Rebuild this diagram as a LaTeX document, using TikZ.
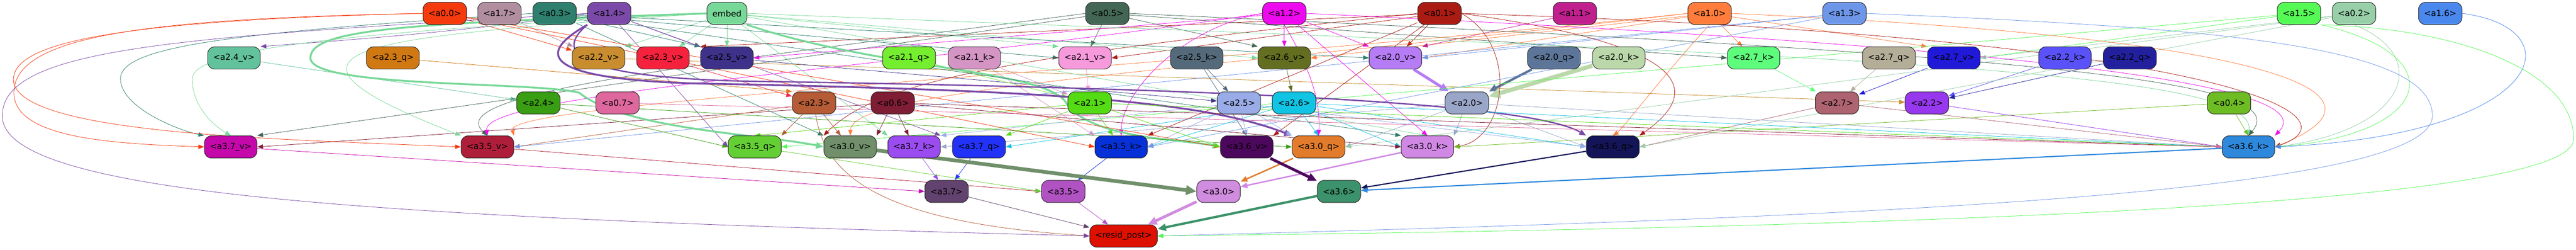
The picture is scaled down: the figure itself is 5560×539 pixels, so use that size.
\documentclass[tikz,border=0pt]{standalone}
\usepackage{fontspec}
\setmainfont{DejaVu Sans}
\usetikzlibrary{arrows.meta}
\pgfdeclarelayer{back}
\pgfdeclarelayer{edges}
\pgfsetlayers{back,edges,main}
\newcommand\nfs{\fontsize{18}{21}\selectfont}
% node colours
\definecolor{c00}{HTML}{F53A0E}\definecolor{c17}{HTML}{B08EA0}\definecolor{c03}{HTML}{2E7F6E}
\definecolor{c14}{HTML}{7B4AA8}\definecolor{cemb}{HTML}{78D898}\definecolor{c05}{HTML}{436655}
\definecolor{c12}{HTML}{EE0AEE}\definecolor{c01}{HTML}{AA1B14}\definecolor{c11}{HTML}{C0208E}
\definecolor{c10}{HTML}{FF7C3C}\definecolor{c13}{HTML}{6E96E8}\definecolor{c15}{HTML}{55F955}
\definecolor{c02}{HTML}{98CFA8}\definecolor{c16}{HTML}{4A88EE}
\definecolor{c24v}{HTML}{62C29B}\definecolor{c23q}{HTML}{D07812}\definecolor{c22v}{HTML}{C98D30}
\definecolor{c23v}{HTML}{F4223C}\definecolor{c25v}{HTML}{3D3189}\definecolor{c21q}{HTML}{74EE2E}
\definecolor{c21k}{HTML}{D494C4}\definecolor{c21v}{HTML}{F79ADC}\definecolor{c25k}{HTML}{546A7A}
\definecolor{c26v}{HTML}{636E20}\definecolor{c20v}{HTML}{B67CF6}\definecolor{c20q}{HTML}{5C7598}
\definecolor{c20k}{HTML}{BAD8AA}\definecolor{c27k}{HTML}{5EFC7C}\definecolor{c27q}{HTML}{B4AE98}
\definecolor{c27v}{HTML}{2019D8}\definecolor{c22k}{HTML}{5A52F8}\definecolor{c22q}{HTML}{23209E}
\definecolor{c24}{HTML}{3A9E14}\definecolor{c07}{HTML}{DE689E}\definecolor{c23}{HTML}{B55B36}
\definecolor{c06}{HTML}{7E1D34}\definecolor{c21}{HTML}{55DB14}\definecolor{c25}{HTML}{9AACE8}
\definecolor{c26}{HTML}{12C4E4}\definecolor{c20}{HTML}{9AA6C8}\definecolor{c27}{HTML}{AE6470}
\definecolor{c22}{HTML}{9738EE}\definecolor{c04}{HTML}{6EBC24}
\definecolor{c37v}{HTML}{C408AA}\definecolor{c35v}{HTML}{AE1E3A}\definecolor{c35q}{HTML}{64CF34}
\definecolor{c30v}{HTML}{708F6A}\definecolor{c37k}{HTML}{9A4CF0}\definecolor{c37q}{HTML}{2232F8}
\definecolor{c35k}{HTML}{0630D8}\definecolor{c36v}{HTML}{4C085C}\definecolor{c30q}{HTML}{E27C2C}
\definecolor{c30k}{HTML}{D088E4}\definecolor{c36q}{HTML}{141458}\definecolor{c36k}{HTML}{2E88DC}
\definecolor{c37}{HTML}{62426E}\definecolor{c35}{HTML}{B052C2}\definecolor{c30}{HTML}{D08CDE}
\definecolor{c36}{HTML}{3C926A}\definecolor{cres}{HTML}{DE1000}
\tikzset{
  nd/.style={draw=black!85, line width=1.1pt, rounded corners=15pt, minimum height=48pt,
    inner xsep=12pt, inner ysep=0pt, font=\nfs, text=black},
  e/.style={line width=0.9pt, -{Triangle[length=11pt 1.5, width=8pt 1.5]}},
  ew/.style={line width=#1, -{Triangle[length=10pt 1.6, width=7pt 1.6]}},
}
\begin{document}
\begin{tikzpicture}[x=1pt,y=-1pt]
\begin{pgfonlayer}{back}
\fill[white] (0,0) rectangle (5560,539);
\end{pgfonlayer}
\useasboundingbox (0,0) rectangle (5560,539);
% ---------- row 1 ----------
\node[nd,fill=c00]  (a00) at (960,29)  {<a0.0>};
\node[nd,fill=c17]  (a17) at (1078,29) {<a1.7>};
\node[nd,fill=c03]  (a03) at (1197,29) {<a0.3>};
\node[nd,fill=c14]  (a14) at (1315,29) {<a1.4>};
\node[nd,fill=cemb] (emb) at (1569,29) {embed};
\node[nd,fill=c05]  (a05) at (2390,29) {<a0.5>};
\node[nd,fill=c12]  (a12) at (2772,29) {<a1.2>};
\node[nd,fill=c01]  (a01) at (3107,29) {<a0.1>};
\node[nd,fill=c11]  (a11) at (3399,29) {<a1.1>};
\node[nd,fill=c10]  (a10) at (3690,29) {<a1.0>};
\node[nd,fill=c13]  (a13) at (3981,29) {<a1.3>};
\node[nd,fill=c15]  (a15) at (4962,29) {<a1.5>};
\node[nd,fill=c02]  (a02) at (5081,29) {<a0.2>};
\node[nd,fill=c16]  (a16) at (5267,29) {<a1.6>};
% ---------- row 2 ----------
\node[nd,fill=c24v] (a24v) at (505,125)  {<a2.4\_v>};
\node[nd,fill=c23q] (a23q) at (848,125)  {<a2.3\_q>};
\node[nd,fill=c22v] (a22v) at (1292,125) {<a2.2\_v>};
\node[nd,fill=c23v] (a23v) at (1431,125) {<a2.3\_v>};
\node[nd,fill=c25v] (a25v) at (1569,125) {<a2.5\_v>};
\node[nd,fill=c21q] (a21q) at (1962,125) {<a2.1\_q>};
\node[nd,fill=c21k] (a21k) at (2103,125) {<a2.1\_k>};
\node[nd,fill=c21v] (a21v) at (2342,125) {<a2.1\_v>};
\node[nd,fill=c25k] (a25k) at (2583,125) {<a2.5\_k>};
\node[nd,fill=c26v] (a26v) at (2772,125) {<a2.6\_v>};
\node[nd,fill=c20v] (a20v) at (3012,125) {<a2.0\_v>};
\node[nd,fill=c20q] (a20q) at (3354,125) {<a2.0\_q>};
\node[nd,fill=c20k] (a20k) at (3494,125) {<a2.0\_k>};
\node[nd,fill=c27k] (a27k) at (3785,125) {<a2.7\_k>};
\node[nd,fill=c27q] (a27q) at (4077,125) {<a2.7\_q>};
\node[nd,fill=c27v] (a27v) at (4217,125) {<a2.7\_v>};
\node[nd,fill=c22k] (a22k) at (4457,125) {<a2.2\_k>};
\node[nd,fill=c22q] (a22q) at (4597,125) {<a2.2\_q>};
% ---------- row 3 ----------
\node[nd,fill=c24] (a24) at (1162,222) {<a2.4>};
\node[nd,fill=c07] (a07) at (1333,222) {<a0.7>};
\node[nd,fill=c23] (a23) at (1757,222) {<a2.3>};
\node[nd,fill=c06] (a06) at (1927,222) {<a0.6>};
\node[nd,fill=c21] (a21) at (2352,222) {<a2.1>};
\node[nd,fill=c25] (a25) at (2674,222) {<a2.5>};
\node[nd,fill=c26] (a26) at (2793,222) {<a2.6>};
\node[nd,fill=c20] (a20) at (3166,222) {<a2.0>};
\node[nd,fill=c27] (a27) at (3965,222) {<a2.7>};
\node[nd,fill=c22] (a22) at (4159,222) {<a2.2>};
\node[nd,fill=c04] (a04) at (4811,222) {<a0.4>};
% ---------- row 4 ----------
\node[nd,fill=c37v] (a37v) at (498,317)  {<a3.7\_v>};
\node[nd,fill=c35v] (a35v) at (1052,317) {<a3.5\_v>};
\node[nd,fill=c35q] (a35q) at (1629,317) {<a3.5\_q>};
\node[nd,fill=c30v] (a30v) at (1835,317) {<a3.0\_v>};
\node[nd,fill=c37k] (a37k) at (1973,317) {<a3.7\_k>};
\node[nd,fill=c37q] (a37q) at (2113,317) {<a3.7\_q>};
\node[nd,fill=c35k] (a35k) at (2420,317) {<a3.5\_k>};
\node[nd,fill=c36v] (a36v) at (2691,317) {<a3.6\_v>};
\node[nd,fill=c30q] (a30q) at (2846,317) {<a3.0\_q>};
\node[nd,fill=c30k] (a30k) at (3081,317) {<a3.0\_k>};
\node[nd,fill=c36q] (a36q) at (3481,317) {<a3.6\_q>};
\node[nd,fill=c36k] (a36k) at (4853,317) {<a3.6\_k>};
% ---------- row 5 ----------
\node[nd,fill=c37] (a37) at (2043,413) {<a3.7>};
\node[nd,fill=c35] (a35) at (2295,413) {<a3.5>};
\node[nd,fill=c30] (a30) at (2630,413) {<a3.0>};
\node[nd,fill=c36] (a36) at (2890,413) {<a3.6>};
% ---------- row 6 ----------
\node[nd,fill=cres] (res) at (2425,509) {<resid\_post>};

\begin{pgfonlayer}{edges}
% ----- row1 -> row2 -----
\draw[e,c00] (a00) -- (a22v);
\draw[e,c17] (a17) -- (a22v);
\draw[e,cemb] (emb) -- (a22v.north east);
\draw[e,cemb] (emb) -- (a23v);
\draw[e,c01] (a01) -- (a25v.north west);
\draw[e,c14] (a14) -- (a25v.north west);
\draw[e,c03] (a03) -- (a25v.north west);
\draw[e,cemb] (emb) -- (a25v);
\draw[e,c12] (a12) -- (a25v.east);
\draw[e,c05] (a05) -- (a21v);
\draw[e,cemb] (emb) -- (a21v.north west);
\draw[e,c03] (a03) -- (a21v.west);
\draw[e,c01] (a01) -- (a21v.east);
\draw[e,c12] (a12) -- (a26v);
\draw[e,c05] (a05) -- (a26v.north west);
\draw[e,cemb] (emb) -- (a26v.west);
\draw[e,c10] (a10) -- (a26v.east);
\draw[e,c01] (a01) -- (a20v);
\draw[e,c12] (a12) -- (a20v.north west);
\draw[e,c03] (a03) -- (a20v.west);
\draw[e,c11] (a11) -- (a20v.north east);
\draw[e,c10] (a10) -- (a20v.east);
\draw[e,c13] (a13) -- (a20v.east);
\draw[e,c10] (a10) -- (a27k);
\draw[e,c05] (a05) -- (a27k.west);
\draw[e,c10] (a10) -- (a27v.north west);
\draw[e,c15] (a15) -- (a27v.east);
\draw[e,c02] (a02) -- (a27v.east);
\draw[e,c14] (a14.west) .. controls (1000,70) and (700,90) .. (a24v.north east);
% ----- row2 -> row3 -----
\draw[e,c24v] (a24v) -- (a24);
\draw[e,c23q] (a23q) -- (a23.north west);
\draw[e,c23v] (a23v) -- (a23);
\draw[e,c22v] (a22v) -- (a22);
\draw[e,c25v] (a25v) -- (a25);
\draw[e,c21q] (a21q) -- (a21);
\draw[e,c21k] (a21k) -- (a21);
\draw[e,c21v] (a21v) -- (a21);
\draw[e,c25k] (a25k) -- (a25);
\draw[e,c26v] (a26v) -- (a26);
\draw[ew=6pt,c20v] (a20v) -- (a20);
\draw[ew=5pt,c20q] (a20q) -- (a20);
\draw[ew=9pt,c20k] (a20k) -- (a20);
\draw[e,c27k] (a27k) -- (a27);
\draw[e,c27q] (a27q) -- (a27);
\draw[e,c27v] (a27v) -- (a27);
\draw[e,c22k] (a22k) -- (a22);
\draw[e,c22q] (a22q) -- (a22);
% ----- -> a3.7_v -----
\draw[e,c00] (a00.west) .. controls (300,40) and (30,80) .. (30,200) .. controls (30,300) and (250,310) .. (a37v.west);
\draw[e,c03] (a03.west) .. controls (500,70) and (260,100) .. (260,170) .. controls (260,230) and (380,280) .. (a37v.north west);
\draw[e,cemb] (emb.west) .. controls (700,70) and (415,110) .. (415,170) .. controls (415,230) and (460,270) .. (a37v.north);
\draw[e,c05] (a05) -- (a37v.north east);
\draw[e,c06] (a06) -- (a37v.east);
% ----- -> a3.5_v -----
\draw[e,c00] (a00.west) .. controls (200,45) and (15,100) .. (30,180) .. controls (60,290) and (600,300) .. (a35v.west);
\draw[e,cemb] (emb.west) .. controls (800,80) and (500,100) .. (a35v.north west);
\draw[e,c05] (a05.west) .. controls (1500,140) and (950,200) .. (a35v.north);
\draw[e,c12] (a12.west) .. controls (2000,140) and (1040,200) .. (a35v.north);
\draw[e,c10] (a10.west) .. controls (2500,150) and (1090,220) .. (a35v.north east);
\draw[e,c23] (a23) -- (a35v.east);
\draw[e,c13] (a13) -- (a35v.east);
% ----- -> a3.5_q -----
\draw[e,c21] (a21) -- (a35q.north);
\draw[e,c23] (a23) -- (a35q.north east);
\draw[e,c24] (a24) -- (a35q.west);
\draw[e,c14] (a14) -- (a35q.west);
\draw[e,c15] (a15) -- (a35q.east);
% ----- -> a3.0_v -----
\draw[ew=4pt,cemb] (emb.west) .. controls (900,50) and (670,60) .. (670,125) .. controls (670,190) and (1150,175) .. (1250,200) .. controls (1350,280) and (1650,290) .. (a30v.west);
\draw[e,c03] (a03) -- (a30v.north west);
\draw[e,c01] (a01.west) .. controls (2200,120) and (1900,170) .. (a30v.north west);
\draw[e,c23] (a23) -- (a30v);
\draw[e,c10] (a10.west) .. controls (2600,150) and (1840,190) .. (a30v.north);
\draw[e,c06] (a06) -- (a30v.north east);
% ----- -> a3.7_k -----
\draw[e,c06] (a06) -- (a37k);
\draw[e,c25] (a25) -- (a37k.north east);
\draw[e,c14] (a14) -- (a37k.north east);
\draw[e,cemb] (emb) -- (a37k.north west);
\draw[e,c20] (a20) -- (a37k.east);
% ----- -> a3.7_q -----
\draw[e,c21] (a21) -- (a37q.north east);
\draw[e,c26] (a26) -- (a37q.east);
% ----- -> a3.5_k -----
\draw[e,c21] (a21) -- (a35k);
\draw[e,c12] (a12.west) .. controls (2550,60) and (2420,200) .. (a35k.north);
\draw[e,c01] (a01) -- (a35k.north east);
\draw[e,c00] (a00) -- (a35k.west);
\draw[e,c21k] (a21k) -- (a35k.north west);
\draw[e,c26] (a26) -- (a35k.east);
\draw[e,c25] (a25) -- (a35k.east);
\draw[e,c13] (a13) -- (a35k.east);
% ----- -> a3.6_v -----
\draw[ew=4pt,cemb] (emb.south east) .. controls (1900,150) and (2250,150) .. (2300,220) .. controls (2350,300) and (2550,300) .. (a36v.west);
\draw[e,c00] (a00) -- (a36v.west);
\draw[e,c21] (a21) -- (a36v.west);
\draw[e,c25k] (a25k) -- (a36v.north);
\draw[e,c25] (a25) -- (a36v.north);
\draw[e,c01] (a01) -- (a36v.north east);
% ----- -> a3.0_q -----
\draw[ew=4pt,c14] (a14.south west) .. controls (1150,120) and (1180,170) .. (1500,180) .. controls (2300,195) and (2600,220) .. (a30q.north west);
\draw[e,c24] (a24) -- (a30q.west);
\draw[e,c25] (a25) -- (a30q.north west);
\draw[e,c26] (a26) -- (a30q.north);
\draw[e,c12] (a12.south) .. controls (2830,150) and (2850,220) .. (a30q.north);
\draw[e,c20] (a20) -- (a30q.east);
\draw[e,c02] (a02) -- (a30q.east);
% ----- -> a3.0_k -----
\draw[e,c03] (a03) -- (a30k.north west);
\draw[e,cemb] (emb) -- (a30k.north);
\draw[e,c12] (a12) -- (a30k.north);
\draw[e,c20] (a20) -- (a30k.north east);
\draw[e,c26] (a26) -- (a30k.west);
\draw[e,c06] (a06) -- (a30k.west);
\draw[e,c01] (a01.east) .. controls (3280,100) and (3250,300) .. (a30k.east);
\draw[e,c04] (a04) -- (a30k.east);
% ----- -> a3.6_q -----
\draw[ew=3pt,c14] (a14.south west) .. controls (1200,110) and (1230,165) .. (1600,175) .. controls (2600,190) and (3300,220) .. (a36q.north west);
\draw[e,c20] (a20) -- (a36q.west);
\draw[e,c26] (a26) -- (a36q.west);
\draw[e,c25] (a25) -- (a36q.west);
\draw[e,c27] (a27) -- (a36q.east);
\draw[e,c02] (a02) -- (a36q.east);
\draw[e,c01] (a01.east) .. controls (3600,90) and (3700,180) .. (a36q.north east);
\draw[e,c10] (a10.south) .. controls (3600,150) and (3500,280) .. (a36q.north);
% ----- -> a3.6_k -----
\draw[e,c04] (a04) -- (a36k.north);
\draw[e,cemb] (emb.east) .. controls (4000,120) and (4870,150) .. (a36k.north);
\draw[e,c05] (a05.east) .. controls (4500,120) and (4950,180) .. (a36k.north);
\draw[e,c12] (a12.east) .. controls (4600,110) and (5000,200) .. (a36k.north east);
\draw[e,c10] (a10.east) .. controls (4900,80) and (5200,200) .. (a36k.east);
\draw[e,c01] (a01.east) .. controls (4800,80) and (5100,250) .. (a36k.east);
\draw[e,c02] (a02.south) .. controls (5250,120) and (5200,280) .. (a36k.east);
\draw[e,c15] (a15.south east) .. controls (5300,120) and (5250,290) .. (a36k.east);
\draw[e,c16] (a16.east) .. controls (5560,60) and (5500,290) .. (a36k.east);
\draw[e,c22] (a22) -- (a36k.west);
\draw[e,c27] (a27) -- (a36k.west);
\draw[e,c20] (a20) -- (a36k.west);
\draw[e,c26] (a26) -- (a36k.west);
\draw[e,c06] (a06) -- (a36k.west);
\draw[e,c21] (a21) -- (a36k.west);
\draw[e,c07] (a07) -- (a36k.west);
% ----- row4 -> row5 -----
\draw[e,c37v] (a37v) -- (a37.west);
\draw[e,c37k] (a37k) -- (a37);
\draw[e,c37q] (a37q) -- (a37);
\draw[e,c35v] (a35v) -- (a35.west);
\draw[e,c35q] (a35q) -- (a35.west);
\draw[e,c35k] (a35k) -- (a35);
\draw[ew=8pt,c30v] (a30v) -- (a30.west);
\draw[ew=3pt,c30q] (a30q) -- (a30);
\draw[ew=3pt,c30k] (a30k) -- (a30);
\draw[ew=6pt,c36v] (a36v) -- (a36);
\draw[ew=2.5pt,c36q] (a36q) -- (a36);
\draw[ew=2.5pt,c36k] (a36k) -- (a36);
% ----- -> resid_post -----
\draw[e,c37] (a37) -- (res);
\draw[e,c35] (a35) -- (res);
\draw[ew=6pt,c30] (a30) -- (res);
\draw[ew=5pt,c36] (a36) -- (res);
\draw[e,c23] (a23) .. controls (1780,380) and (1900,480) .. (res.west);
\draw[e,c14] (a14.west) .. controls (400,80) and (5,100) .. (5,250) .. controls (5,420) and (800,470) .. (res.west);
\draw[e,c13] (a13.east) .. controls (4800,60) and (5250,100) .. (5250,250) .. controls (5250,420) and (4000,470) .. (res.east);
\draw[e,c15] (a15.south east) .. controls (5300,60) and (5555,150) .. (5555,300) .. controls (5555,440) and (4200,490) .. (res.east);
\end{pgfonlayer}
\end{tikzpicture}
\end{document}
